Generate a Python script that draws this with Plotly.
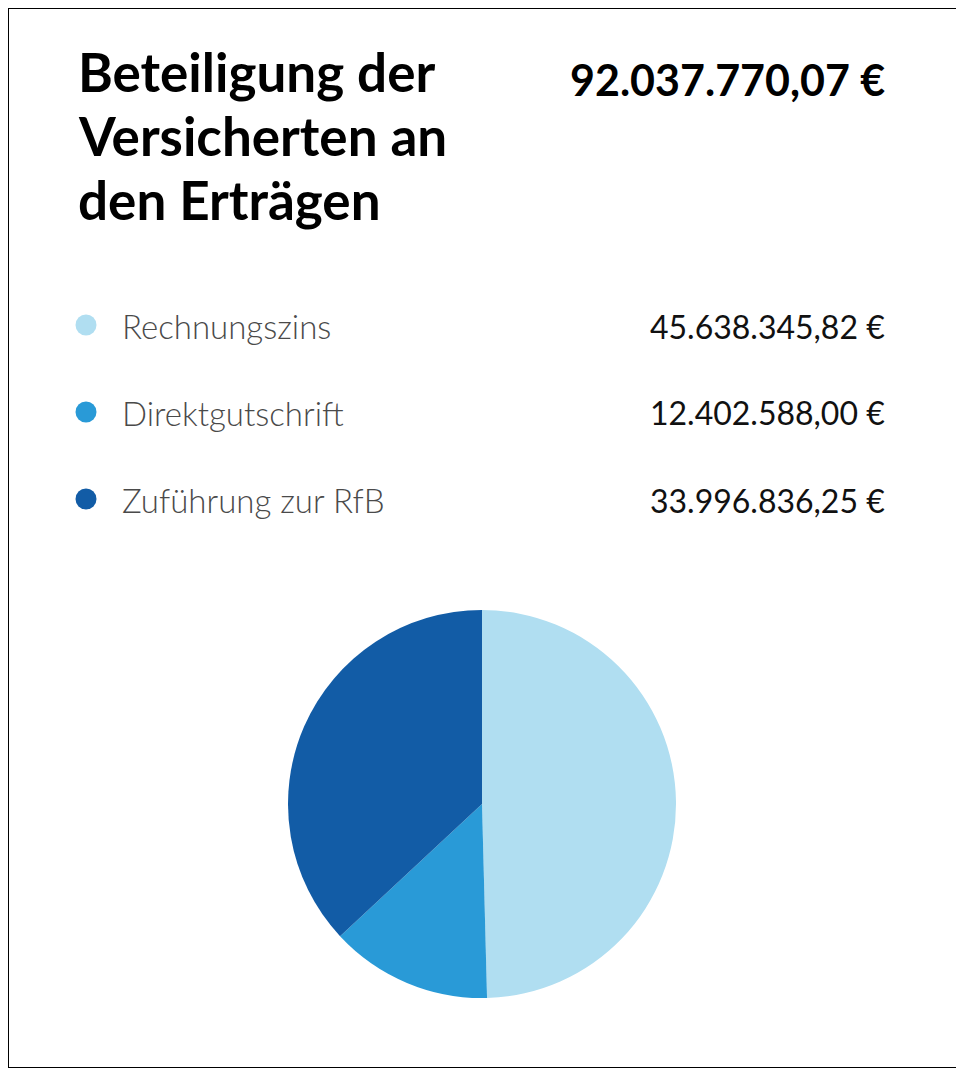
import plotly.graph_objects as go

# Data
categories = ["Rechnungszins", "Direktgutschrift", "Zuführung zur RfB"]
values = [45638345.82, 12402588.00, 33996836.25]
value_labels = ["45.638.345,82 €", "12.402.588,00 €", "33.996.836,25 €"]
total_label = "92.037.770,07 €"
title_lines = ["Beteiligung der", "Versicherten an", "den Erträgen"]
colors = ["#B0DEF1", "#299AD7", "#125CA6"]

# The page body has an 8px margin; work in window pixels and shift.
OFF = 8
W, H = 964 - OFF, 1068 - OFF


def px(x):
    return (x - OFF) / W


def py(y):
    return 1 - (y - OFF) / H


fig = go.Figure()

# Pie
cx, cy, r = 482, 804, 194
fig.add_trace(go.Pie(
    labels=categories,
    values=values,
    marker=dict(colors=colors, line=dict(width=0)),
    sort=False,
    direction="clockwise",
    rotation=0,
    textinfo="none",
    hoverinfo="label+value+percent",
    showlegend=False,
    domain=dict(x=[px(cx - r), px(cx + r)], y=[py(cy + r), py(cy - r)]),
))

annotations = []
# Title (one annotation per line for exact line spacing)
for i, line in enumerate(title_lines):
    annotations.append(dict(
        text=line, x=px(76), y=py(72 + 64 * i), xref="paper", yref="paper",
        xanchor="left", yanchor="middle", align="left", showarrow=False,
        font=dict(family="Lato", size=53, color="#000000", weight="bold"),
    ))
# Total
annotations.append(dict(
    text=total_label, x=px(887), y=py(79), xref="paper", yref="paper",
    xanchor="right", yanchor="middle", align="right", showarrow=False,
    font=dict(family="Lato", size=43, color="#000000", weight="bold"),
))

shapes = []
row_y = [326, 413, 500]
for cat, lab, col, yy in zip(categories, value_labels, colors, row_y):
    annotations.append(dict(
        text=cat, x=px(120), y=py(yy), xref="paper", yref="paper",
        xanchor="left", yanchor="middle", align="left", showarrow=False,
        font=dict(family="Lato", size=33, color="#4a4a4a", weight=300),
    ))
    annotations.append(dict(
        text=lab, x=px(887), y=py(yy), xref="paper", yref="paper",
        xanchor="right", yanchor="middle", align="right", showarrow=False,
        font=dict(family="Lato", size=32, color="#111111", weight=400),
    ))
    shapes.append(dict(
        type="circle", xref="paper", yref="paper",
        x0=px(75.5), x1=px(96.5), y0=py(yy - 1 - 10.5), y1=py(yy - 1 + 10.5),
        fillcolor=col, line=dict(width=0),
    ))

# Border
shapes.append(dict(
    type="rect", xref="paper", yref="paper", x0=0, x1=1, y0=0, y1=1,
    line=dict(color="#000000", width=2), fillcolor="rgba(0,0,0,0)",
))

fig.update_layout(
    width=W, height=H,
    margin=dict(l=0, r=0, t=0, b=0),
    paper_bgcolor="#FFFFFF",
    plot_bgcolor="#FFFFFF",
    annotations=annotations,
    shapes=shapes,
)

fig.write_html("out.html")
